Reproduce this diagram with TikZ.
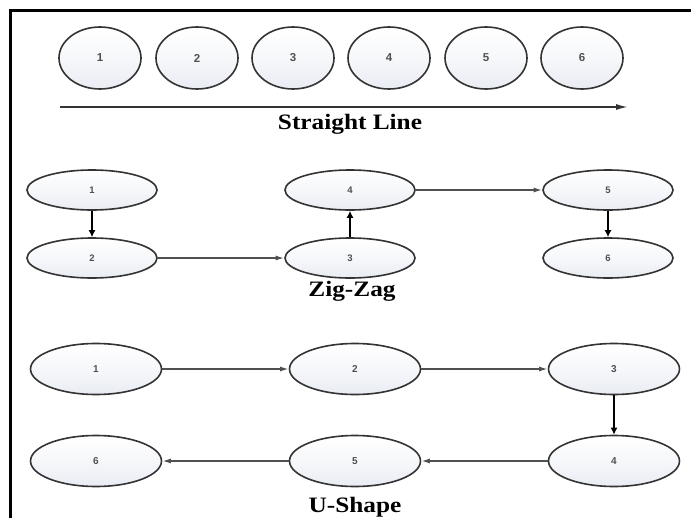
\documentclass[tikz,border=0pt]{standalone}
\usepackage{fontspec}
\setmainfont{Liberation Serif}
\newfontfamily\numfont{Liberation Sans}
\usetikzlibrary{shapes.geometric,arrows.meta}
\definecolor{rimgray}{HTML}{333333}
\definecolor{fillend}{HTML}{E9ECF3}
\definecolor{numgray}{HTML}{505050}
\tikzset{
  bubble/.style={ellipse, draw=rimgray, line width=1.6pt, inner sep=0pt,
    top color=white, bottom color=fillend, middle color=white!60!fillend,
    text=numgray},
  roundA/.style={bubble, minimum width=82pt, minimum height=62pt,
    font=\numfont\bfseries\fontsize{11.5}{12}\selectfont},
  ovalB/.style={bubble, minimum width=130pt, minimum height=40pt,
    font=\numfont\bfseries\fontsize{9.5}{10}\selectfont},
  ovalC/.style={bubble, minimum width=131pt, minimum height=51pt,
    font=\numfont\bfseries\fontsize{10}{11}\selectfont},
  thinlink/.style={draw=numgray, line width=1.1pt,
    -{Latex[length=8pt,width=5pt]}, shorten >=0.5pt},
  thicklink/.style={draw=black, line width=2.4pt,
    -{Latex[length=7pt,width=7pt]}},
  caption/.style={font=\bfseries\fontsize{22}{26}\selectfont, xscale=1.15,
    inner sep=0pt, anchor=base}
}
\begin{document}
\begin{tikzpicture}[x=1pt, y=-1pt]
  \useasboundingbox (0,0) rectangle (691,517);
  \fill[white] (0,0) rectangle (691,517);
  % outer frame (left and top edges in view)
  \draw[line width=3pt, line cap=rect] (10.5,520) -- (10.5,10.5) -- (695,10.5);

  % --- straight line layout ---
  \foreach \i/\x in {1/100,2/197,3/293,4/389,5/486,6/582}
    \node[roundA] (s\i) at (\x,58) {\i};
  \coordinate (sl0) at (60,107);
  \coordinate (sl1) at (628,107);
  \draw[draw=rimgray, line width=1.6pt, -{Latex[length=12pt,width=6pt]}] (sl0) -- (sl1);
  \node[caption] (capS) at (350,129) {Straight Line};

  % --- zig-zag layout ---
  \node[ovalB] (z1) at (92,190) {1};
  \node[ovalB] (z2) at (92,258) {2};
  \node[ovalB] (z3) at (350,258) {3};
  \node[ovalB] (z4) at (350,190) {4};
  \node[ovalB] (z5) at (608,190) {5};
  \node[ovalB] (z6) at (608,258) {6};
  \draw[thicklink] (z1) -- (z2);
  \draw[thinlink] (z2) -- (z3);
  \draw[thicklink] (z3) -- (z4);
  \draw[thinlink] (z4) -- (z5);
  \draw[thicklink] (z5) -- (z6);
  \node[caption] (capZ) at (352,296) {Zig-Zag};

  % --- u-shape layout ---
  \node[ovalC] (u1) at (96,369) {1};
  \node[ovalC] (u2) at (355,369) {2};
  \node[ovalC] (u3) at (614,369) {3};
  \node[ovalC] (u4) at (614,461) {4};
  \node[ovalC] (u5) at (355,461) {5};
  \node[ovalC] (u6) at (96,461) {6};
  \draw[thinlink] (u1) -- (u2);
  \draw[thinlink] (u2) -- (u3);
  \draw[thicklink] (u3) -- (u4);
  \draw[thinlink] (u4) -- (u5);
  \draw[thinlink] (u5) -- (u6);
  \node[caption] (capU) at (355,512) {U-Shape};
\end{tikzpicture}
\end{document}
